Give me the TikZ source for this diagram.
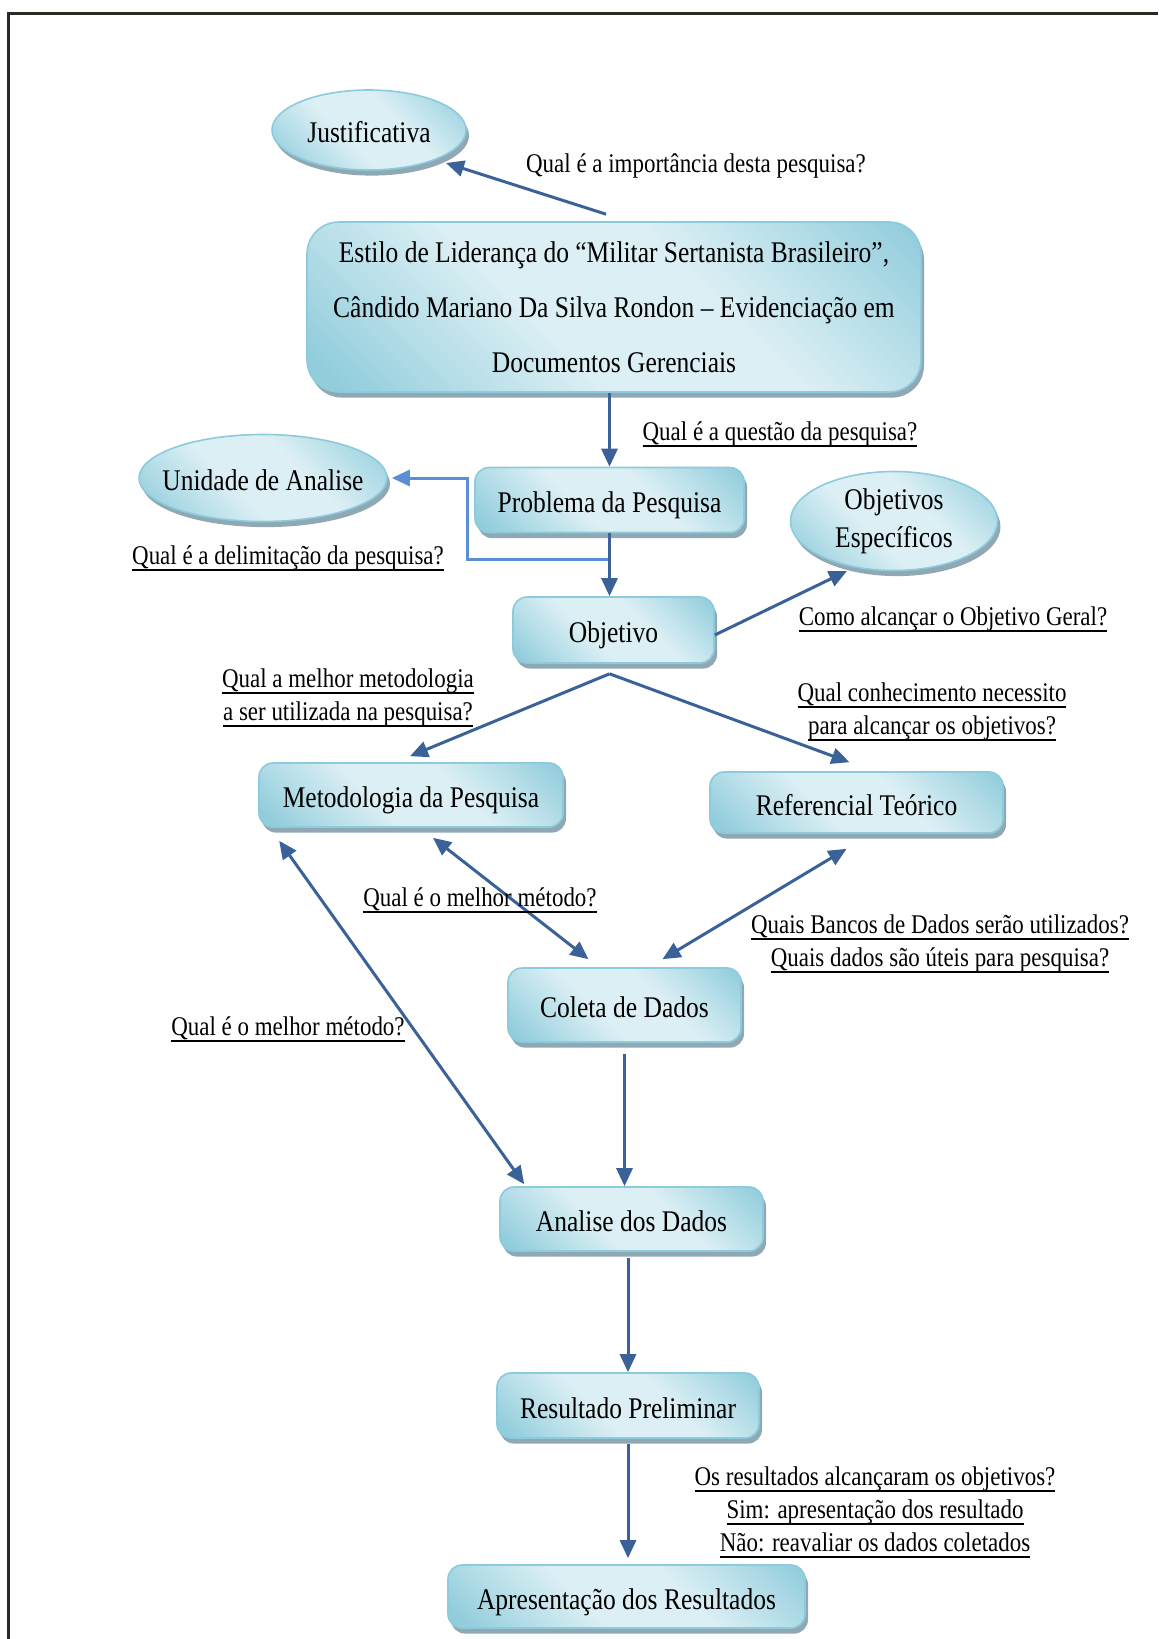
\documentclass[tikz,border=0pt]{standalone}
\usepackage{fontspec}
\setmainfont{Liberation Serif}[FakeStretch=0.85]
\newcommand{\myul}[1]{\setbox0=\hbox{#1}\leavevmode\rlap{\rule[-3.2pt]{\wd0}{1pt}}\box0}
\usetikzlibrary{arrows.meta,shapes.geometric,shadows,calc}
\definecolor{arrc}{HTML}{3A6298}
\definecolor{lblue}{HTML}{5A8FD3}
\definecolor{bdark}{HTML}{92CDDC}
\definecolor{bmid}{HTML}{B8DFE9}
\definecolor{blight}{HTML}{DCEFF4}
\definecolor{bedge}{HTML}{8CCBDC}
\definecolor{shad}{HTML}{8FA8B4}
\definecolor{framec}{HTML}{2A2A24}
\pgfdeclareverticalshading{boxshade}{100bp}{color(0bp)=(bdark); color(18bp)=(bdark); color(30bp)=(bmid); color(42bp)=(blight); color(60bp)=(blight); color(72bp)=(bmid); color(84bp)=(bdark); color(100bp)=(bdark)}
\tikzset{
  basefill/.style={draw=bedge, line width=0.8pt, shade, shading=boxshade, shading angle=-45,
    drop shadow={shadow xshift=1.5pt, shadow yshift=-2.8pt, fill=shad, opacity=1},
    inner sep=0pt, align=center, font=\fontsize{15}{19}\selectfont},
  box/.style={basefill, rectangle, rounded corners=7pt, text height=12.5pt, text depth=0pt},
  oval/.style={basefill, ellipse},
  lab/.style={font=\fontsize{13.5}{16.5}\selectfont, align=center, inner sep=0pt},
  arr/.style={draw=arrc, line width=1.5pt, -{Triangle[length=9pt,width=8pt]}},
  darr/.style={draw=arrc, line width=1.5pt, {Triangle[length=9pt,width=8pt]}-{Triangle[length=9pt,width=8pt]}},
  larr/.style={draw=lblue, line width=1.5pt, -{Triangle[length=9pt,width=8pt]}},
}
\begin{document}
\begin{tikzpicture}[x=0.5pt,y=-0.5pt]
\useasboundingbox (0,0) rectangle (1158,1639);
\draw[framec, line width=1.5pt] (8,1639) -- (8,13) -- (1158,13);

% nodes
\node[oval, minimum width=97pt, minimum height=40pt, text height=12.5pt, text depth=0pt] (just) at (369,130) {\makebox[0pt]{Justificativa}};
\node[basefill, rectangle, rounded corners=16pt, minimum width=307pt, minimum height=85pt, font=\fontsize{15}{27.5}\selectfont] (title) at (614,307)
  {Estilo de Liderança do “Militar Sertanista Brasileiro”,\\Cândido Mariano Da Silva Rondon – Evidenciação em\\Documentos Gerenciais};
\node[box, minimum width=134.5pt, minimum height=32.5pt] (prob) at (609.5,500) {Problema da Pesquisa};
\node[oval, minimum width=124pt, minimum height=43.5pt, text height=12.5pt, text depth=0pt] (unid) at (263,478) {\makebox[0pt]{Unidade de Analise}};
\node[box, minimum width=100.5pt, minimum height=33pt] (obj) at (613.5,630) {Objetivo};
\node[oval, minimum width=103.5pt, minimum height=49.5pt] (objesp) at (894,521) {\makebox[0pt]{Objetivos}\\\makebox[0pt]{Específicos}};
\node[box, minimum width=152pt, minimum height=32pt] (metod) at (411,795) {Metodologia da Pesquisa};
\node[box, minimum width=146.5pt, minimum height=30.5pt] (ref) at (856.5,802.5) {Referencial Teórico};
\node[box, minimum width=116.5pt, minimum height=37pt] (coleta) at (624.5,1005) {Coleta de Dados};
\node[box, minimum width=131.5pt, minimum height=32pt] (analise) at (631.5,1219) {Analise dos Dados};
\node[box, minimum width=131pt, minimum height=32.5pt] (result) at (628,1405.5) {Resultado Preliminar};
\node[box, minimum width=178.5pt, minimum height=31.5pt] (apres) at (626.5,1596.5) {Apresentação dos Resultados};

% connectors
\draw[arr] ([shift={(-8,-7)}]title.north) -- ([shift={(77,33)}]just.center);
\draw[arr] (title.south -| prob.north) -- (prob.north);
\draw[larr] (prob.south) ++(0,26) -- ++(-142,0) |- ([xshift=2pt]unid.east);
\draw[arr] (prob.south) -- (prob.south |- obj.north);
\draw[arr] ([yshift=-2.5pt]obj.east) -- ([shift={(-47,50)}]objesp.center);
\coordinate (apex) at ([shift={(-4,10)}]obj.south);
\draw[arr] (apex) -- ([shift={(-1,-6)}]metod.north);
\draw[arr] (apex) -- ([shift={(-7,-9)}]ref.north);
\draw[darr] ([shift={(22,10)}]metod.south) -- ([shift={(-36,-8)}]coleta.north);
\draw[darr] ([shift={(-10,15)}]ref.south) -- ([shift={(38,-8)}]coleta.north);
\draw[darr] ([shift={(21,13)}]metod.south west) -- ([shift={(25,-2)}]analise.north west);
\draw[arr] ([yshift=-5.5pt]coleta.south) -- (coleta.south |- analise.north);
\draw[arr] ($(result.north |- analise.south)+(0,6)$) -- (result.north);
\draw[arr, shorten >=3pt] ($(result.south)+(0,5)$) -- (result.south |- apres.north);

% labels
\node[lab] (limp) at (696,166) {Qual é a importância desta pesquisa?};
\node[lab] (lquest) at (780,434) {\myul{Qual é a questão da pesquisa?}};
\node[lab] (ldelim) at (288,558) {\myul{Qual é a delimitação da pesquisa?}};
\node[lab] (lcomo) at (953,619) {\myul{Como alcançar o Objetivo Geral?}};
\node[lab] (lmetod) at (348,698) {\myul{Qual a melhor metodologia}\\\myul{a ser utilizada na pesquisa?}};
\node[lab] (lconh) at (932,712) {\myul{Qual conhecimento necessito}\\\myul{para alcançar os objetivos?}};
\node[lab] (lmel1) at (480,900) {\myul{Qual é o melhor método?}};
\node[lab] (lbanc) at (940,944) {\myul{Quais Bancos de Dados serão utilizados?}\\\myul{Quais dados são úteis para pesquisa?}};
\node[lab] (lmel2) at (288,1029) {\myul{Qual é o melhor método?}};
\node[lab] (lres) at (875,1512) {\myul{Os resultados alcançaram os objetivos?}\\\myul{Sim: apresentação dos resultado}\\\myul{Não: reavaliar os dados coletados}};
\end{tikzpicture}
\end{document}
